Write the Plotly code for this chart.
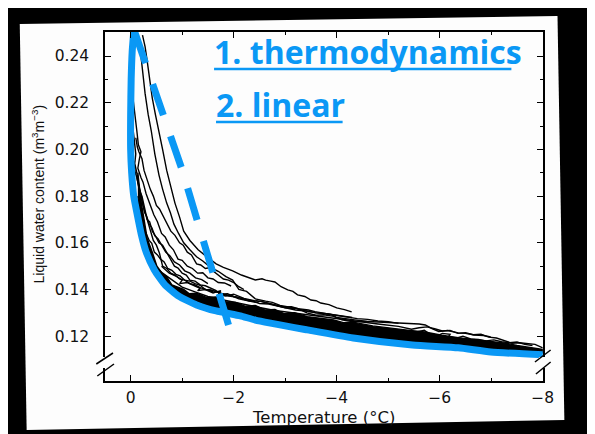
import plotly.graph_objects as go

# the page puts the figure 8px in from the top-left corner
OFF = 8
W, H = 595 - OFF, 434 - OFF

# fitted curves drawn in blue
thermo_t = [-0.06, -0.03, -0.01, 0.0, 0.0, -0.02, -0.06, -0.13, -0.21, -0.30, -0.46, -0.67, -0.93,
            -1.28, -1.66, -2.13, -2.42, -3.43, -4.32, -5.47, -6.36, -6.99, -8.10]
thermo_w = [0.2503, 0.2420, 0.2300, 0.2150, 0.2000, 0.1900, 0.1800, 0.1719, 0.1633, 0.1561, 0.1484,
            0.1419, 0.1372, 0.1334, 0.1308, 0.1287, 0.1269, 0.1227, 0.1192, 0.1162, 0.1150, 0.1132,
            0.1120]

linear_t = [-0.08, -1.00, -1.90]
linear_w = [0.2503, 0.1912, 0.1248]

# dense mass of measurements just above the lower curve
band_t = [-0.14, -0.20, -0.26, -0.32, -0.42, -0.51, -0.61, -0.70, -0.80, -0.90, -1.03, -1.14, -1.28,
          -1.47, -1.66, -1.85, -2.04, -2.23, -2.42, -2.61, -2.80, -2.99, -3.18, -3.43, -3.66,
          -3.94, -4.13, -4.32, -4.70, -5.09, -5.37, -5.71, -6.04, -6.36, -6.67, -6.99, -7.28,
          -7.50, -7.75, -8.00]
band_upper = [0.1900, 0.1780, 0.1700, 0.1620, 0.1560, 0.1500, 0.1470, 0.1455, 0.1420, 0.1410, 0.1400,
              0.1382, 0.1384, 0.1366, 0.1368, 0.1348, 0.1344, 0.1328, 0.1332, 0.1312, 0.1314, 0.1296,
              0.1300, 0.1284, 0.1278, 0.1270, 0.1258, 0.1260, 0.1244, 0.1232, 0.1226, 0.1218, 0.1204,
              0.1194, 0.1186, 0.1178, 0.1170, 0.1160, 0.1150, 0.1143]
band_lower = [0.1800, 0.1690, 0.1620, 0.1575, 0.1515, 0.1475, 0.1445, 0.1425, 0.1400, 0.1385, 0.1372,
              0.1360, 0.1350, 0.1334, 0.1322, 0.1310, 0.1298, 0.1288, 0.1262, 0.1256, 0.1244, 0.1238,
              0.1228, 0.1218, 0.1210, 0.1200, 0.1195, 0.1190, 0.1180, 0.1172, 0.1165, 0.1160, 0.1155,
              0.1152, 0.1146, 0.1140, 0.1137, 0.1133, 0.1131, 0.1129]

# individual runs
run1_t = [-0.23, -0.28, -0.32, -0.37, -0.42, -0.48, -0.55, -0.62, -0.70, -0.78, -0.86, -0.95, -1.03,
          -1.15, -1.31, -1.45, -1.66, -1.80, -1.98, -2.15, -2.30, -2.42, -2.55, -2.62, -2.72, -2.80,
          -2.92, -3.05, -3.15, -3.24, -3.38, -3.50, -3.60, -3.69, -3.85, -4.00, -4.15, -4.29]
run1_w = [0.2490, 0.2440, 0.2380, 0.2300, 0.2220, 0.2150, 0.2080, 0.2000, 0.1910, 0.1840, 0.1770,
          0.1710, 0.1650, 0.1610, 0.1570, 0.1545, 0.1510, 0.1495, 0.1480, 0.1462, 0.1452, 0.1441,
          0.1446, 0.1440, 0.1436, 0.1432, 0.1412, 0.1398, 0.1392, 0.1377, 0.1370, 0.1355, 0.1352,
          0.1342, 0.1335, 0.1321, 0.1314, 0.1304]

run2_t = [-0.17, -0.22, -0.28, -0.34, -0.40, -0.47, -0.55, -0.62, -0.70, -0.77, -0.84, -0.93, -1.03,
          -1.15, -1.28, -1.40, -1.55, -1.70, -1.85, -1.98, -2.10, -2.25, -2.42, -2.62, -2.75, -2.90,
          -3.05, -3.25, -3.42, -3.60, -3.75, -3.94, -4.10, -4.32, -4.50, -4.70, -4.90, -5.09, -5.30,
          -5.47, -5.60, -5.72, -5.85, -5.98, -6.15, -6.36, -6.50, -6.67, -6.85, -6.99]
run2_w = [0.2460, 0.2350, 0.2240, 0.2150, 0.2080, 0.1980, 0.1890, 0.1830, 0.1770, 0.1730, 0.1680,
          0.1640, 0.1600, 0.1570, 0.1540, 0.1522, 0.1495, 0.1478, 0.1455, 0.1440, 0.1400, 0.1392,
          0.1360, 0.1350, 0.1345, 0.1332, 0.1326, 0.1318, 0.1300, 0.1290, 0.1292, 0.1285, 0.1270,
          0.1262, 0.1264, 0.1262, 0.1259, 0.1257, 0.1258, 0.1255, 0.1252, 0.1248, 0.1232, 0.1220,
          0.1224, 0.1214, 0.1212, 0.1205, 0.1203, 0.1197]

run3_t = [-0.05, -0.08, -0.12, -0.15, -0.20, -0.17, -0.14, -0.20, -0.24, -0.30, -0.35, -0.40, -0.45,
          -0.52, -0.60, -0.67, -0.75, -0.83, -0.92, -1.00, -1.10, -1.20, -1.30, -1.40, -1.50, -1.60,
          -1.70, -1.82, -1.95]
run3_w = [0.2210, 0.2140, 0.2080, 0.2020, 0.1990, 0.1960, 0.1920, 0.1880, 0.1860, 0.1810, 0.1780,
          0.1755, 0.1720, 0.1690, 0.1640, 0.1625, 0.1590, 0.1570, 0.1530, 0.1525, 0.1500, 0.1490,
          0.1470, 0.1472, 0.1450, 0.1445, 0.1430, 0.1428, 0.1415]

run4_t = [-0.10, -0.13, -0.16, -0.22, -0.26, -0.30, -0.34, -0.38, -0.44, -0.50, -0.56, -0.62, -0.70,
          -0.78, -0.86, -0.95, -1.02, -1.10, -1.18, -1.28, -1.36, -1.45, -1.52, -1.60, -1.70, -1.80,
          -1.90, -2.00, -2.10, -2.20]
run4_w = [0.2050, 0.2010, 0.1990, 0.1960, 0.1910, 0.1880, 0.1860, 0.1830, 0.1800, 0.1760, 0.1745,
          0.1720, 0.1690, 0.1650, 0.1632, 0.1600, 0.1590, 0.1560, 0.1548, 0.1510, 0.1505, 0.1490,
          0.1493, 0.1480, 0.1462, 0.1445, 0.1440, 0.1430, 0.1412, 0.1400]

run5_t = [-0.06, -0.09, -0.12, -0.18, -0.22, -0.25, -0.32, -0.37, -0.42, -0.48, -0.55, -0.62, -0.70,
          -0.78, -0.85, -0.92, -1.00, -1.08, -1.15, -1.25, -1.35, -1.45, -1.55, -1.65, -1.75, -1.88,
          -2.00, -2.15, -2.30, -2.45, -2.60, -2.80, -3.00, -3.20, -3.40, -3.60, -3.80, -4.05, -4.30]
run5_w = [0.1950, 0.1900, 0.1880, 0.1820, 0.1800, 0.1770, 0.1700, 0.1690, 0.1650, 0.1630, 0.1600,
          0.1590, 0.1560, 0.1528, 0.1500, 0.1492, 0.1470, 0.1462, 0.1440, 0.1436, 0.1420, 0.1416,
          0.1405, 0.1396, 0.1380, 0.1382, 0.1370, 0.1362, 0.1350, 0.1352, 0.1345, 0.1334, 0.1322,
          0.1318, 0.1310, 0.1300, 0.1296, 0.1288, 0.1280]

run6_t = [-0.08, -0.11, -0.14, -0.20, -0.24, -0.28, -0.36, -0.41, -0.46, -0.52, -0.58, -0.65, -0.72,
          -0.80, -0.88, -0.96, -1.05, -1.15, -1.25, -1.35, -1.45, -1.55, -1.65, -1.78, -1.90, -2.05,
          -2.20, -2.35, -2.50, -2.68, -2.85, -3.00, -3.20, -3.40, -3.60, -3.80, -4.00, -4.20, -4.40,
          -4.60, -4.80, -5.00, -5.20]
run6_w = [0.1800, 0.1770, 0.1740, 0.1700, 0.1690, 0.1650, 0.1610, 0.1598, 0.1560, 0.1548, 0.1530,
          0.1518, 0.1490, 0.1482, 0.1465, 0.1458, 0.1440, 0.1436, 0.1425, 0.1418, 0.1400, 0.1398,
          0.1390, 0.1380, 0.1372, 0.1368, 0.1358, 0.1352, 0.1340, 0.1338, 0.1330, 0.1322, 0.1312,
          0.1308, 0.1300, 0.1296, 0.1288, 0.1282, 0.1275, 0.1272, 0.1265, 0.1262, 0.1255]

run7_t = [-0.10, -0.14, -0.18, -0.26, -0.36, -0.48, -0.62, -0.80, -1.00, -1.25, -1.50, -1.80, -2.10,
          -2.45, -2.80, -3.20, -3.60, -4.00, -4.40, -4.80, -5.20, -5.45, -5.60, -5.75, -5.90, -6.05,
          -6.20, -6.35, -6.50, -6.65, -6.80, -6.95, -7.10, -7.25, -7.40, -7.55, -7.70, -7.85, -8.00]
run7_w = [0.1700, 0.1680, 0.1650, 0.1590, 0.1540, 0.1500, 0.1470, 0.1440, 0.1410, 0.1390, 0.1370,
          0.1355, 0.1340, 0.1325, 0.1310, 0.1298, 0.1285, 0.1275, 0.1262, 0.1252, 0.1242, 0.1230,
          0.1236, 0.1240, 0.1232, 0.1222, 0.1225, 0.1212, 0.1215, 0.1206, 0.1208, 0.1196, 0.1192,
          0.1180, 0.1170, 0.1172, 0.1170, 0.1165, 0.1150]

run8_t = [-1.50, -1.65, -1.80, -1.95, -2.10, -2.25, -2.42, -2.52, -2.60, -2.70, -2.80, -2.90, -3.00,
          -3.12, -3.25, -3.35, -3.45, -3.58, -3.70, -3.80, -3.90, -4.00, -4.10, -4.22, -4.35, -4.48,
          -4.60]
run8_w = [0.1400, 0.1392, 0.1380, 0.1374, 0.1360, 0.1352, 0.1345, 0.1350, 0.1345, 0.1340, 0.1335,
          0.1328, 0.1325, 0.1326, 0.1318, 0.1316, 0.1312, 0.1305, 0.1300, 0.1298, 0.1292, 0.1280,
          0.1278, 0.1275, 0.1270, 0.1266, 0.1262]

run9_t = [-0.04, -0.07, -0.10, -0.08, -0.12, -0.16, -0.20, -0.24, -0.28, -0.33, -0.38, -0.44, -0.50,
          -0.56, -0.62, -0.70, -0.78, -0.86, -0.95, -1.05, -1.15, -1.25, -1.35, -1.48, -1.60]
run9_w = [0.2100, 0.2040, 0.1980, 0.1940, 0.1900, 0.1845, 0.1810, 0.1760, 0.1730, 0.1690, 0.1660,
          0.1610, 0.1590, 0.1555, 0.1500, 0.1490, 0.1470, 0.1462, 0.1445, 0.1440, 0.1425, 0.1420,
          0.1408, 0.1400, 0.1390]

run10_t = [-0.12, -0.15, -0.19, -0.23, -0.27, -0.31, -0.36, -0.41, -0.47, -0.53, -0.60, -0.68, -0.76,
           -0.85, -0.95, -1.05, -1.15, -1.26, -1.38, -1.50]
run10_w = [0.1880, 0.1840, 0.1800, 0.1770, 0.1730, 0.1715, 0.1680, 0.1665, 0.1630, 0.1618, 0.1590,
           0.1560, 0.1545, 0.1518, 0.1505, 0.1480, 0.1470, 0.1450, 0.1442, 0.1425]

run11_t = [-0.60, -0.75, -0.90, -1.00, -0.95, -1.10, -1.25, -1.35, -1.30, -1.45, -1.60, -1.75, -1.70,
           -1.85, -2.00, -2.20, -2.40]
run11_w = [0.1500, 0.1470, 0.1455, 0.1440, 0.1425, 0.1430, 0.1415, 0.1405, 0.1395, 0.1400, 0.1385,
           0.1395, 0.1378, 0.1372, 0.1380, 0.1362, 0.1352]

run12_t = [-5.40, -5.55, -5.70, -5.80, -5.75, -5.90, -6.05, -6.20, -6.15, -6.30, -6.45, -6.60, -6.75,
           -6.90, -7.05, -7.20, -7.35, -7.50, -7.65, -7.80]
run12_w = [0.1222, 0.1218, 0.1225, 0.1210, 0.1200, 0.1196, 0.1212, 0.1208, 0.1192, 0.1190, 0.1200,
           0.1188, 0.1186, 0.1180, 0.1184, 0.1176, 0.1172, 0.1175, 0.1165, 0.1160]

runs = [(run1_t, run1_w), (run2_t, run2_w), (run3_t, run3_w), (run4_t, run4_w),
        (run5_t, run5_w), (run6_t, run6_w), (run7_t, run7_w), (run8_t, run8_w),
        (run9_t, run9_w), (run10_t, run10_w), (run11_t, run11_w), (run12_t, run12_w)]

y_ticks = [0.12, 0.14, 0.16, 0.18, 0.20, 0.22, 0.24]
x_ticks = [0, -2, -4, -6, -8]
x_ticktext = ["0", "\u22122", "\u22124", "\u22126", "\u22128"]

BLUE = "#0A98F5"
SHEET = "#fdfdfd"


def fx(p):
    return (p - OFF) / W


def fy(p):
    return 1 - (p - OFF) / H


fig = go.Figure()

fig.add_trace(go.Scatter(
    x=band_t + band_t[::-1],
    y=band_upper + band_lower[::-1],
    fill='toself', fillcolor='black',
    line=dict(color='black', width=1.4),
    mode='lines',
))
for t, w in runs:
    fig.add_trace(go.Scatter(x=t, y=w, mode='lines', line=dict(color='black', width=1.4)))

fig.add_trace(go.Scatter(x=thermo_t, y=thermo_w, mode='lines',
                         line=dict(color=BLUE, width=7, shape='spline', smoothing=0.5)))
fig.add_trace(go.Scatter(x=linear_t, y=linear_w, mode='lines',
                         line=dict(color=BLUE, width=7, dash='33px,22px')))

tickfont = dict(family="DejaVu Sans", size=15.5, color="#111111")

fig.update_xaxes(
    domain=[fx(107), fx(553)],
    range=[0.495, -8.0],
    showline=True, linecolor='black', linewidth=1.6, mirror='allticks',
    ticks='inside', ticklen=6, tickwidth=1.4, tickcolor='black',
    tickvals=x_ticks, ticktext=x_ticktext,
    minor=dict(ticks='inside', ticklen=3, tickwidth=1.1, tickcolor='black', dtick=1, tick0=0),
    showgrid=False, zeroline=False, tickfont=tickfont, ticklabelstandoff=2,
)
fig.update_yaxes(
    domain=[fy(381), fy(32)],
    range=[0.1008, 0.2503],
    showline=True, linecolor='black', linewidth=1.6, mirror='allticks',
    ticks='inside', ticklen=6, tickwidth=1.4, tickcolor='black',
    tickvals=y_ticks, ticktext=["%.2f" % v for v in y_ticks],
    minor=dict(ticks='inside', ticklen=3, tickwidth=1.1, tickcolor='black', dtick=0.01, tick0=0),
    showgrid=False, zeroline=False, tickfont=tickfont, ticklabelstandoff=11,
)

paper_poly = [(20, 24), (568, 16), (575, 420), (27, 430)]
path = "M " + " L ".join("%.4f,%.4f" % (fx(a), fy(b)) for a, b in paper_poly) + " Z"

shapes = [
    dict(type='path', xref='paper', yref='paper', path=path,
         fillcolor=SHEET, line=dict(width=0), layer='below'),
    # gaps and break marks on the axes
    dict(type='rect', xref='paper', yref='paper', x0=fx(103), x1=fx(111), y0=fy(368), y1=fy(357),
         fillcolor=SHEET, line=dict(width=0), layer='above'),
    dict(type='rect', xref='paper', yref='paper', x0=fx(549), x1=fx(557), y0=fy(368), y1=fy(357),
         fillcolor=SHEET, line=dict(width=0), layer='above'),
    dict(type='line', xref='paper', yref='paper', x0=fx(98), y0=fy(364), x1=fx(115), y1=fy(353),
         line=dict(color='black', width=1.5)),
    dict(type='line', xref='paper', yref='paper', x0=fx(99), y0=fy(376), x1=fx(116), y1=fy(364),
         line=dict(color='black', width=1.5)),
    dict(type='line', xref='paper', yref='paper', x0=fx(545), y0=fy(362), x1=fx(561), y1=fy(350),
         line=dict(color='black', width=1.5)),
    dict(type='line', xref='paper', yref='paper', x0=fx(546), y0=fy(374), x1=fx(561), y1=fy(362),
         line=dict(color='black', width=1.5)),
    # underlines of the labels
    dict(type='line', xref='paper', yref='paper', x0=fx(218), y0=fy(69), x1=fx(521), y1=fy(69),
         line=dict(color=BLUE, width=2.5)),
    dict(type='line', xref='paper', yref='paper', x0=fx(220), y0=fy(122), x1=fx(349), y1=fy(122),
         line=dict(color=BLUE, width=2.5)),
]

annotations = [
    dict(text="1. thermodynamics", x=fx(216), y=fy(51), xref='paper', yref='paper',
         xanchor='left', yanchor='middle', showarrow=False,
         font=dict(family="Open Sans", size=32, color=BLUE, weight='bold')),
    dict(text="2. linear", x=fx(218), y=fy(104), xref='paper', yref='paper',
         xanchor='left', yanchor='middle', showarrow=False,
         font=dict(family="Open Sans", size=32, color=BLUE, weight='bold')),
    dict(text="Temperature (\u00b0C)", x=fx(330), y=fy(417), xref='paper', yref='paper',
         xanchor='center', yanchor='middle', showarrow=False,
         font=dict(family="DejaVu Sans", size=16.5, color='#111111')),
    dict(text="Liquid water content (m<sup>3</sup>m<sup>\u22123</sup>)", x=fx(39), y=fy(194),
         xref='paper', yref='paper', textangle=-90,
         xanchor='center', yanchor='middle', showarrow=False,
         font=dict(family="Liberation Sans", size=14, color='#111111')),
]

fig.update_layout(
    width=W, height=H,
    margin=dict(l=0, r=0, t=0, b=0),
    paper_bgcolor='black',
    plot_bgcolor='rgba(0,0,0,0)',
    showlegend=False,
    shapes=shapes,
    annotations=annotations,
)

fig.write_html("out.html")
